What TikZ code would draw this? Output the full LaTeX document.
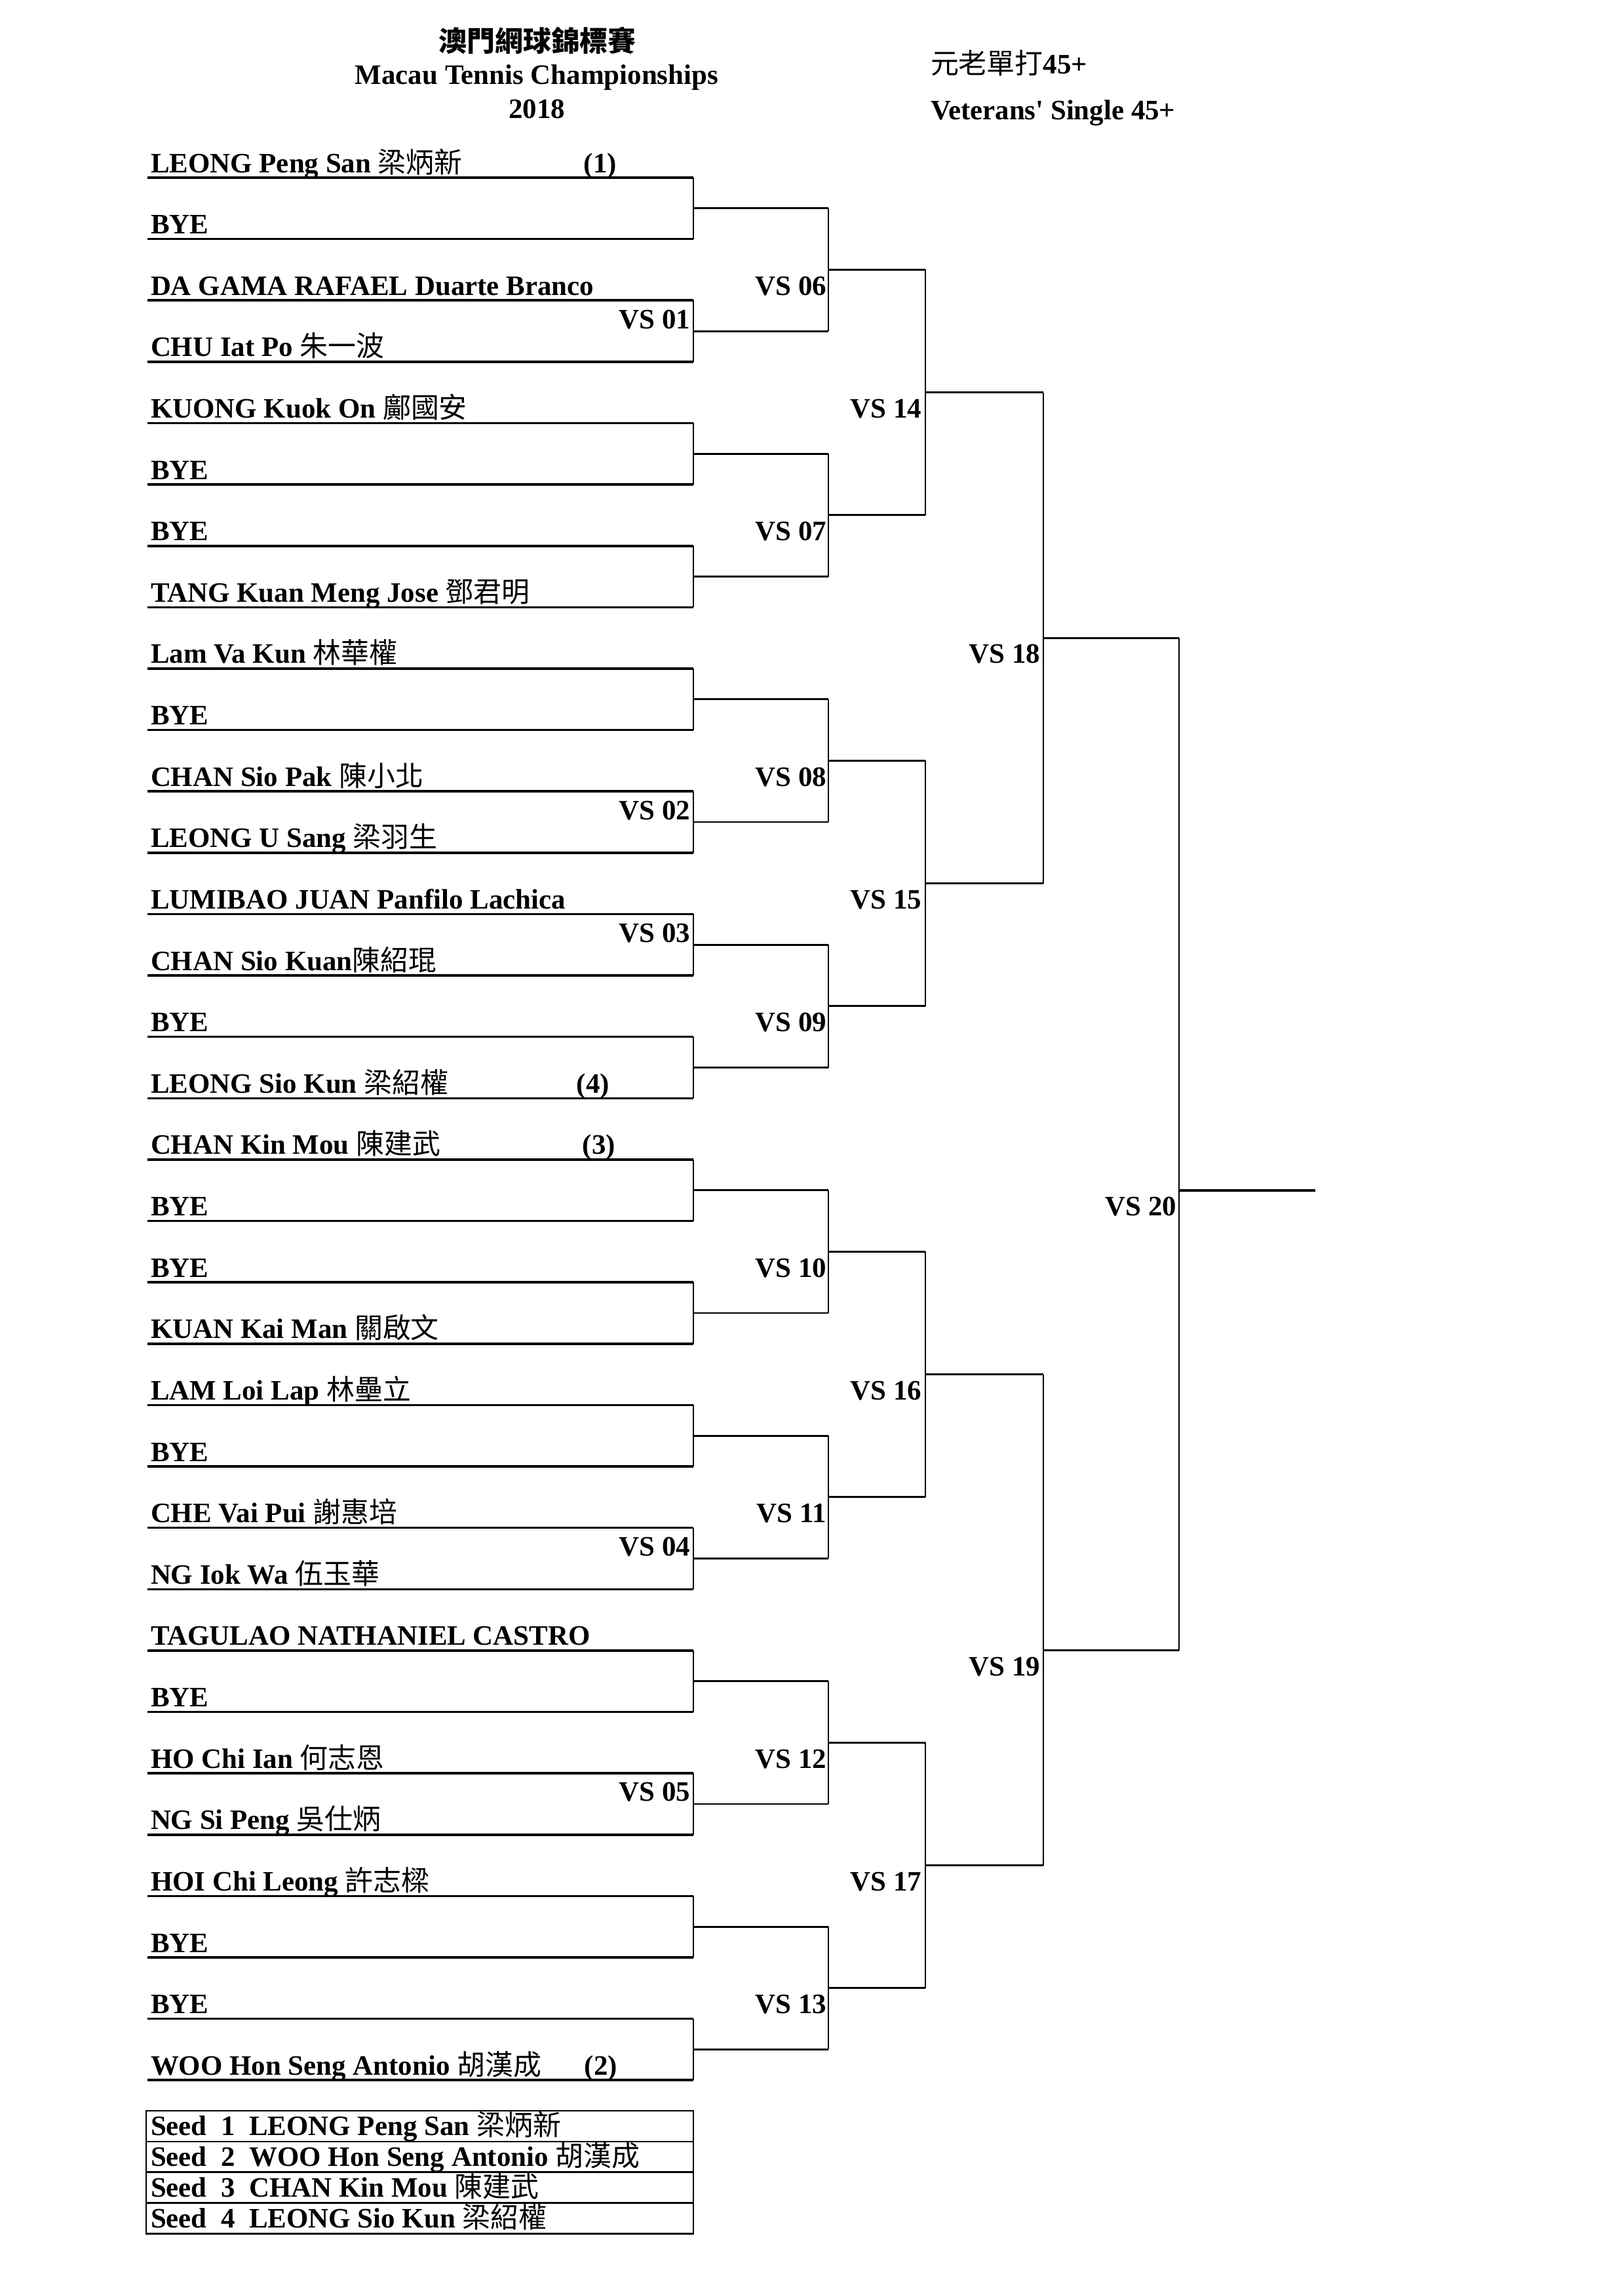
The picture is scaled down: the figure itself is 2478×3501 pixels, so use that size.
\documentclass[tikz,border=0pt]{standalone}
\usepackage{fontspec}
\setmainfont{Liberation Serif}
\newfontfamily\cjkfont{Noto Sans CJK TC}
\usetikzlibrary{calc}
\newcommand\hanzi[1]{{\cjkfont\mdseries #1}}
\newcommand\hanzib[1]{{\cjkfont\bfseries #1}}
\begin{document}
\begin{tikzpicture}[x=0.24pt,y=-0.24pt,
  txt/.style={inner sep=0pt,outer sep=0pt,font=\fontsize{10.3pt}{12pt}\selectfont\bfseries},
  nm/.style={txt,anchor=base west},
  vs/.style={txt,anchor=base east},
  sd/.style={txt,anchor=base},
  ttl/.style={txt,anchor=base},
  pline/.style={line width=0.85pt},
  cline/.style={line width=0.7pt},
  lgbox/.style={line width=0.6pt}]
\fill[white] (0,0) rectangle (2478,3501);
\useasboundingbox (0,0) rectangle (2478,3501);

% ---------- titles ----------
\node[ttl] (t1) at (820,78) {\hanzib{澳門網球錦標賽}};
\node[ttl] (t2) at (819,128) {Macau Tennis Championships};
\node[ttl] (t3) at (819,180) {2018};
\node[nm] (t4) at (1420,112) {\hanzi{元老單打}45+};
\node[nm] (t5) at (1420,182) {Veterans\textquotesingle\ Single 45+};

% ---------- player lines ----------
\foreach \i in {0,...,31}{
  \coordinate (pl\i) at (225,{271+93.62*\i});
  \coordinate (pr\i) at (1058,{271+93.62*\i});
}
\foreach \i in {0,...,31}{\draw[pline] (pl\i) -- (pr\i);}

% round 1
\foreach \k in {0,...,15}{
  \pgfmathtruncatemacro{\a}{2*\k}
  \pgfmathtruncatemacro{\b}{2*\k+1}
  \coordinate (ma\k) at ($(pr\a)!0.5!(pr\b)$);
  \coordinate (ea\k) at ($(ma\k)+(206,0)$);
  \draw[cline] (pr\a) -- (pr\b);
  \draw[cline] (ma\k) -- (ea\k);
}
% round 2
\foreach \k in {0,...,7}{
  \pgfmathtruncatemacro{\a}{2*\k}
  \pgfmathtruncatemacro{\b}{2*\k+1}
  \coordinate (mb\k) at ($(ea\a)!0.5!(ea\b)$);
  \coordinate (eb\k) at ($(mb\k)+(148,0)$);
  \draw[cline] (ea\a) -- (ea\b);
  \draw[cline] (mb\k) -- (eb\k);
}
% round 3
\foreach \k in {0,...,3}{
  \pgfmathtruncatemacro{\a}{2*\k}
  \pgfmathtruncatemacro{\b}{2*\k+1}
  \coordinate (mc\k) at ($(eb\a)!0.5!(eb\b)$);
  \coordinate (ec\k) at ($(mc\k)+(180,0)$);
  \draw[cline] (eb\a) -- (eb\b);
  \draw[cline] (mc\k) -- (ec\k);
}
% round 4
\coordinate (md0) at (1592,{271+46.81*15});
\coordinate (ed0) at (1799,{271+46.81*15});
\coordinate (md1) at (1592,{271+46.81*48});
\coordinate (ed1) at (1799,{271+46.81*48});
\draw[cline] (ec0) -- (ec1);
\draw[cline] (ec2) -- (ec3);
\draw[cline] (md0) -- (ed0);
\draw[cline] (md1) -- (ed1);
% final
\coordinate (fm) at (1799,{271+46.81*33});
\coordinate (fe) at (2007,{271+46.81*33});
\draw[cline] (ed0) -- (ed1);
\draw[pline] (fm) -- (fe);

% ---------- names ----------
\newcommand\plnode[2]{\node[nm] (n#1) at (230,{263+93.62*#1}) {#2};}
\plnode{0}{LEONG Peng San \hanzi{梁炳新}}
\plnode{1}{BYE}
\plnode{2}{DA GAMA RAFAEL Duarte Branco}
\plnode{3}{CHU Iat Po \hanzi{朱一波}}
\plnode{4}{KUONG Kuok On \hanzi{鄺國安}}
\plnode{5}{BYE}
\plnode{6}{BYE}
\plnode{7}{TANG Kuan Meng Jose \hanzi{鄧君明}}
\plnode{8}{Lam Va Kun \hanzi{林華權}}
\plnode{9}{BYE}
\plnode{10}{CHAN Sio Pak \hanzi{陳小北}}
\plnode{11}{LEONG U Sang \hanzi{梁羽生}}
\plnode{12}{LUMIBAO JUAN Panfilo Lachica}
\plnode{13}{CHAN Sio Kuan\hanzi{陳紹琨}}
\plnode{14}{BYE}
\plnode{15}{LEONG Sio Kun \hanzi{梁紹權}}
\plnode{16}{CHAN Kin Mou \hanzi{陳建武}}
\plnode{17}{BYE}
\plnode{18}{BYE}
\plnode{19}{KUAN Kai Man \hanzi{關啟文}}
\plnode{20}{LAM Loi Lap \hanzi{林壘立}}
\plnode{21}{BYE}
\plnode{22}{CHE Vai Pui \hanzi{謝惠培}}
\plnode{23}{NG Iok Wa \hanzi{伍玉華}}
\plnode{24}{TAGULAO NATHANIEL CASTRO}
\plnode{25}{BYE}
\plnode{26}{HO Chi Ian \hanzi{何志恩}}
\plnode{27}{NG Si Peng \hanzi{吳仕炳}}
\plnode{28}{HOI Chi Leong \hanzi{許志樑}}
\plnode{29}{BYE}
\plnode{30}{BYE}
\plnode{31}{WOO Hon Seng Antonio \hanzi{胡漢成}}

% seeds
\node[sd] (s1) at (916,{263+93.62*0}) {(1)};
\node[sd] (s4) at (905,{263+93.62*15}) {(4)};
\node[sd] (s3) at (914,{263+93.62*16}) {(3)};
\node[sd] (s2) at (917,{263+93.62*31}) {(2)};

% ---------- match labels ----------
\foreach \k/\t in {1/01,5/02,6/03,11/04,13/05}{
  \node[vs] (v\t) at (1053,{271+46.81*(4*\k+1)-4}) {VS \t};
}
\foreach \k/\t in {0/06,1/07,2/08,3/09,4/10,5/11,6/12,7/13}{
  \node[vs] (v\t) at (1261,{263+93.62*(4*\k+2)}) {VS \t};
}
\foreach \k/\t in {0/14,1/15,2/16,3/17}{
  \node[vs] (v\t) at (1406,{263+93.62*(8*\k+4)}) {VS \t};
}
\node[vs] (v18) at (1587,{263+46.81*16}) {VS 18};
\node[vs] (v19) at (1587,{263+46.81*49}) {VS 19};
\node[vs] (v20) at (1795,{263+46.81*34}) {VS 20};

% ---------- seed legend ----------
\coordinate (lgA) at (223,{271+46.81*63});
\coordinate (lgB) at (1058,{271+46.81*67});
\draw[lgbox] (lgA) rectangle (lgB);
\foreach \m in {64,65,66}{
  \coordinate (lgl\m) at (223,{271+46.81*\m});
  \coordinate (lgr\m) at (1058,{271+46.81*\m});
  \draw[lgbox] (lgl\m) -- (lgr\m);
}
\node[nm] (lg1) at (230,{262+46.81*64}) {Seed\ \ 1\ \ LEONG Peng San \hanzi{梁炳新}};
\node[nm] (lg2) at (230,{262+46.81*65}) {Seed\ \ 2\ \ WOO Hon Seng Antonio \hanzi{胡漢成}};
\node[nm] (lg3) at (230,{262+46.81*66}) {Seed\ \ 3\ \ CHAN Kin Mou \hanzi{陳建武}};
\node[nm] (lg4) at (230,{262+46.81*67}) {Seed\ \ 4\ \ LEONG Sio Kun \hanzi{梁紹權}};
\end{tikzpicture}
\end{document}
